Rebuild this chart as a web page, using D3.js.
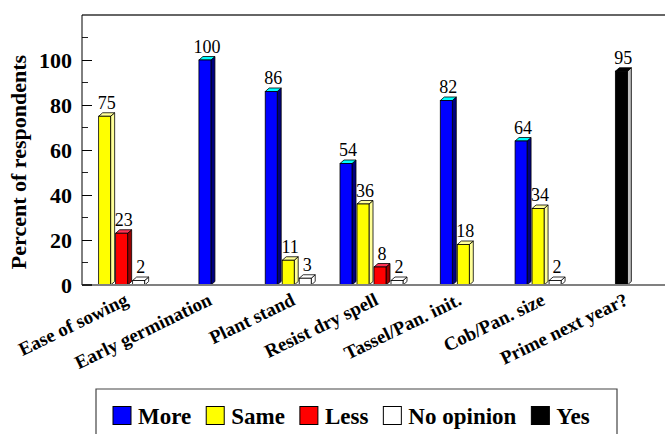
<!DOCTYPE html>
<html>
<head>
<meta charset="utf-8">
<script src="https://cdn.jsdelivr.net/npm/d3@7"></script>
<style>
  html, body { margin: 0; padding: 0; background: #fff; }
  svg { display: block; }
  svg text { font-family: "Liberation Serif", "Times New Roman", "DejaVu Serif", serif; }
</style>
</head>
<body>
<svg id="chart" width="665" height="434"></svg>
<script>
const categories = ["Ease of sowing", "Early germination", "Plant stand", "Resist dry spell", "Tassel/Pan. init.", "Cob/Pan. size", "Prime next year?"];
const more      = [null, 100, 86, 54, 82, 64, null];
const same      = [75, null, 11, 36, 18, 34, null];
const less      = [23, null, null, 8, null, null, null];
const noOpinion = [2, null, 3, 2, null, 2, null];
const yes       = [null, null, null, null, null, null, 95];
const seriesNames = ["More", "Same", "Less", "No opinion", "Yes"];
const yTicks = [0, 20, 40, 60, 80, 100];

(function () {
const seriesValues = [more, same, less, noOpinion, yes];
const styles = [
  {front: "#0000ff", side: "#000080", top: "#00ffff"},
  {front: "#ffff00", side: "#ffff99", top: "#ffff99"},
  {front: "#ff0000", side: "#990000", top: "#ff3355"},
  {front: "#ffffff", side: "#ffffff", top: "#ffffff"},
  {front: "#000000", side: "#c0c0c0", top: "#000000"}
];

const svg = d3.select("#chart");
const pLeft = 82, pRight = 665, pTop = 15, base = 285;

const y = d3.scaleLinear().domain([0, 120]).range([base, pTop]);
const x = d3.scaleBand().domain(categories).range([pLeft, pRight]);

const barW = 12, dx = 4, dy = 3.5, slot = 17;

// frame top line
svg.append("line").attr("x1", pLeft).attr("x2", pRight).attr("y1", pTop).attr("y2", pTop)
  .attr("stroke", "#333").attr("stroke-width", 1.5);

// minor ticks
const minor = d3.range(10, 120, 20);
svg.append("g").selectAll("line").data(minor).join("line")
  .attr("x1", pLeft).attr("x2", pLeft + 6)
  .attr("y1", d => y(d)).attr("y2", d => y(d))
  .attr("stroke", "#222").attr("stroke-width", 1);

// y axis
const yAxis = d3.axisLeft(y).tickValues(yTicks).tickSize(-10).tickPadding(10).tickSizeOuter(0);
const gy = svg.append("g").attr("transform", `translate(${pLeft},0)`).call(yAxis);
gy.attr("font-family", null).attr("font-size", null);
gy.select(".domain").remove();
gy.selectAll(".tick line").attr("stroke", "#000");
gy.selectAll(".tick text").style("font-weight", "bold")
  .style("font-size", "22px").attr("fill", "#000").attr("dy", "0.35em");
svg.append("line").attr("x1", pLeft).attr("x2", pLeft).attr("y1", pTop).attr("y2", base)
  .attr("stroke", "#000").attr("stroke-width", 1);

// y title
svg.append("text")
  .attr("transform", `translate(26,${(pTop + base) / 2 + 12}) rotate(-90)`)
  .attr("text-anchor", "middle")
  .style("font-weight", "bold").style("font-size", "22px")
  .text("Percent of respondents");

// bars
const gBars = svg.append("g");
categories.forEach((cat, ci) => {
  const present = [];
  seriesValues.forEach((arr, si) => { if (arr[ci] != null) present.push({si, v: arr[ci]}); });
  const groupW = present.length * slot - 1;
  const cx = x(cat) + x.bandwidth() / 2;
  const start = cx - groupW / 2;
  present.forEach((p, k) => {
    const bx = start + k * slot;
    const y0 = y(p.v);
    const st = styles[p.si];
    const g = gBars.append("g");
    g.append("polygon")
      .attr("points", [[bx + barW, y0], [bx + barW + dx, y0 - dy], [bx + barW + dx, base - dy], [bx + barW, base]].join(" "))
      .attr("fill", st.side).attr("stroke", "#000").attr("stroke-width", 0.8).attr("stroke-linejoin", "round");
    g.append("polygon")
      .attr("points", [[bx, y0], [bx + dx, y0 - dy], [bx + barW + dx, y0 - dy], [bx + barW, y0]].join(" "))
      .attr("fill", st.top).attr("stroke", "#000").attr("stroke-width", 0.8).attr("stroke-linejoin", "round");
    g.append("rect").attr("x", bx).attr("y", y0).attr("width", barW).attr("height", base - y0)
      .attr("fill", st.front).attr("stroke", "#000").attr("stroke-width", 0.8);
    g.append("text").attr("x", bx + (barW + dx) / 2).attr("y", y0 - dy - 4)
      .attr("text-anchor", "middle").style("font-size", "18px")
      .text(p.v);
  });
});

// baseline
svg.append("line").attr("x1", pLeft).attr("x2", pRight).attr("y1", base).attr("y2", base)
  .attr("stroke", "#808080").attr("stroke-width", 2);
svg.append("line").attr("x1", pLeft).attr("x2", pLeft + 10).attr("y1", base).attr("y2", base)
  .attr("stroke", "#222").attr("stroke-width", 2);

// x labels
svg.append("g").selectAll("text").data(categories).join("text")
  .attr("transform", d => `translate(${x(d) + x.bandwidth() / 2 + 6},304) rotate(-26)`)
  .attr("text-anchor", "end")
  .style("font-weight", "bold").style("font-size", "19px")
  .text(d => d);

// legend
const lg = svg.append("g");
lg.append("path").attr("d", `M96,440 V389 H617 V440`).attr("fill", "none")
  .attr("stroke", "#444").attr("stroke-width", 1.2);
let lx = 113;
seriesNames.forEach((name, i) => {
  lg.append("rect").attr("x", lx).attr("y", 406.5).attr("width", 18).attr("height", 18)
    .attr("fill", styles[i].front).attr("stroke", "#000").attr("stroke-width", 1);
  const t = lg.append("text").attr("x", lx + 25).attr("y", 423.5)
    .style("font-weight", "bold").style("font-size", "23px").text(name);
  lx += 25 + t.node().getComputedTextLength() + 15;
});
})();
</script>
</body>
</html>
